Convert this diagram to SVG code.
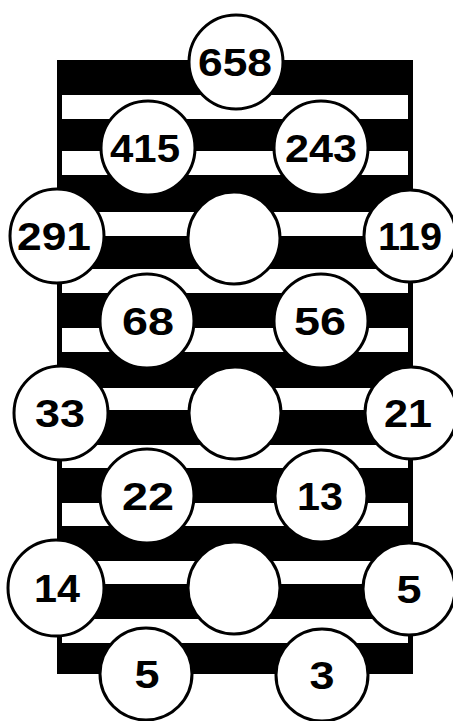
<svg xmlns="http://www.w3.org/2000/svg" width="453" height="721" viewBox="0 0 453 721">
  <style>
    .band { fill: #ffffff; }
    .node circle { fill: #ffffff; stroke: #000000; stroke-width: 3; }
    .node text { font-family: "Liberation Sans", Arial, sans-serif; font-weight: bold; font-size: 38px; fill: #000000; text-anchor: middle; }
  </style>
  <rect x="0" y="0" width="453" height="721" fill="#ffffff"/>
  <g id="background">
    <rect x="57" y="60" width="356" height="614" fill="#000000"/>
    <rect class="band" x="62" y="95" width="346" height="24"/>
    <rect class="band" x="62" y="151" width="346" height="24"/>
    <rect class="band" x="62" y="212" width="346" height="24"/>
    <rect class="band" x="62" y="269" width="346" height="24"/>
    <rect class="band" x="62" y="328" width="346" height="24"/>
    <rect class="band" x="62" y="388" width="346" height="22"/>
    <rect class="band" x="62" y="445" width="346" height="23"/>
    <rect class="band" x="62" y="503" width="346" height="23"/>
    <rect class="band" x="62" y="561" width="346" height="23"/>
    <rect class="band" x="62" y="619" width="346" height="24"/>
  </g>
  <g id="connectors"></g>
  <g id="n658" class="node"><circle cx="236" cy="62" r="47"/><text x="235" y="75.5" textLength="74" lengthAdjust="spacingAndGlyphs">658</text></g>
  <g id="n415" class="node"><circle cx="148" cy="148" r="47"/><text x="145" y="161.5" textLength="70" lengthAdjust="spacingAndGlyphs">415</text></g>
  <g id="n243" class="node"><circle cx="321" cy="148" r="47"/><text x="321" y="161.5" textLength="72" lengthAdjust="spacingAndGlyphs">243</text></g>
  <g id="n291" class="node"><circle cx="57" cy="236" r="47"/><text x="54" y="249.5" textLength="74" lengthAdjust="spacingAndGlyphs">291</text></g>
  <g id="row3mid" class="node"><circle cx="234" cy="238" r="46"/></g>
  <g id="n119" class="node"><circle cx="410" cy="236" r="46"/><text x="410" y="249.5" textLength="64" lengthAdjust="spacingAndGlyphs">119</text></g>
  <g id="n68" class="node"><circle cx="147" cy="321" r="47"/><text x="148" y="334.5" textLength="52" lengthAdjust="spacingAndGlyphs">68</text></g>
  <g id="n56" class="node"><circle cx="321" cy="321" r="47"/><text x="320" y="334.5" textLength="52" lengthAdjust="spacingAndGlyphs">56</text></g>
  <g id="n33" class="node"><circle cx="61" cy="413" r="47"/><text x="60" y="426.5" textLength="50" lengthAdjust="spacingAndGlyphs">33</text></g>
  <g id="row5mid" class="node"><circle cx="235" cy="413" r="46"/></g>
  <g id="n21" class="node"><circle cx="411" cy="413" r="46"/><text x="408" y="426.5" textLength="48" lengthAdjust="spacingAndGlyphs">21</text></g>
  <g id="n22" class="node"><circle cx="147" cy="496" r="47"/><text x="148" y="509.5" textLength="52" lengthAdjust="spacingAndGlyphs">22</text></g>
  <g id="n13" class="node"><circle cx="321" cy="496" r="46"/><text x="320" y="509.5" textLength="46" lengthAdjust="spacingAndGlyphs">13</text></g>
  <g id="n14" class="node"><circle cx="56" cy="588" r="48"/><text x="57" y="601.5" textLength="46" lengthAdjust="spacingAndGlyphs">14</text></g>
  <g id="row7mid" class="node"><circle cx="234" cy="588" r="46"/></g>
  <g id="n5a" class="node"><circle cx="409" cy="589" r="46"/><text x="409" y="602.5" textLength="25" lengthAdjust="spacingAndGlyphs">5</text></g>
  <g id="n5b" class="node"><circle cx="146" cy="674" r="46"/><text x="147" y="687.5" textLength="25" lengthAdjust="spacingAndGlyphs">5</text></g>
  <g id="n3" class="node"><circle cx="322" cy="675" r="46"/><text x="322" y="688.5" textLength="25" lengthAdjust="spacingAndGlyphs">3</text></g>
</svg>
